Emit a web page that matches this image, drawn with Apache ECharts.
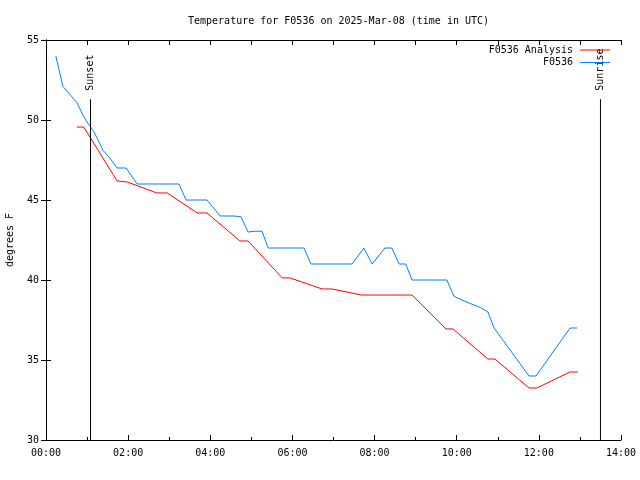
<!DOCTYPE html>
<html><head><meta charset="utf-8">
<script src="https://cdn.jsdelivr.net/npm/echarts@6/dist/echarts.min.js"></script>
<style>html,body{margin:0;padding:0;background:#fff}#c{width:640px;height:480px}</style>
</head><body><div id="c"></div>
<script>
const titleText = 'Temperature for F0536 on 2025-Mar-08 (time in UTC)';
const yName = 'degrees F';
const seriesNames = ['F0536 Analysis', 'F0536'];
const xTickLabels = ['00:00','02:00','04:00','06:00','08:00','10:00','12:00','14:00'];
// hours (UTC) and temperature (F)
const obsHours = [0.24,0.41,0.75,0.90,1.02,1.17,1.39,1.56,1.73,1.95,2.22,3.24,3.41,3.92,4.24,4.58,4.75,4.92,5.09,5.26,5.41,6.28,6.45,7.45,7.74,7.94,8.25,8.42,8.60,8.76,8.91,9.76,9.93,10.03,10.32,10.57,10.76,10.91,11.76,11.93,12.76,12.93];
const obsTemps = [54.0,52.1,51.1,50.3,49.8,49.25,48.1,47.6,47.0,47.0,46.0,46.0,45.0,45.0,44.0,44.0,43.95,43.0,43.05,43.05,42.0,42.0,41.0,41.0,42.0,41.0,42.0,42.0,41.0,41.0,40.0,40.0,39.0,38.86,38.54,38.29,38.0,37.0,34.0,34.0,37.0,37.0];
const anaHours = [0.75,0.92,1.73,1.97,2.70,2.95,3.68,3.92,4.72,4.92,5.75,5.94,6.72,6.96,7.69,8.91,9.74,9.91,10.76,10.93,11.76,11.95,12.76,12.95];
const anaTemps = [49.56,49.56,46.19,46.13,45.44,45.44,44.19,44.19,42.44,42.44,40.13,40.13,39.44,39.44,39.06,39.06,36.94,36.94,35.06,35.06,33.25,33.25,34.25,34.25];
const sunNames = ['Sunset', 'Sunrise'];
const sunHours = [1.084, 13.50];
const sunLineTop = 51.3;

const FONT = 'DejaVu Sans Mono';
const zip = (a, b) => a.map((v, i) => [v, b[i]]);

function sunSeries(i) {
  return {
    type: 'line', name: sunNames[i], xAxisIndex: 0, yAxisIndex: 0,
    symbol: 'circle', symbolSize: 1, showSymbol: true, silent: true, animation: false,
    itemStyle: { color: 'rgba(0,0,0,0)' },
    lineStyle: { color: '#000', width: 1 },
    data: [
      [sunHours[i], 30],
      { value: [sunHours[i], sunLineTop],
        label: { show: true, formatter: sunNames[i], position: 'top', distance: 8,
          rotate: 90, align: 'left', verticalAlign: 'middle',
          color: '#000', fontFamily: FONT, fontSize: 10 } }
    ]
  };
}

const legendBase = {
  orient: 'vertical', align: 'right', padding: 0,
  icon: 'rect', itemWidth: 30, itemHeight: 1, itemGap: 4,
  textStyle: { fontFamily: FONT, fontSize: 10, color: '#000', padding: [0, 2, 0, 0] }
};

const chart = echarts.init(document.getElementById('c'), null, { renderer: 'canvas' });
chart.setOption({
  animation: false,
  backgroundColor: '#fff',
  title: { text: titleText, left: 183, top: 11,
    textStyle: { fontFamily: FONT, fontSize: 10, fontWeight: 'normal', color: '#000' } },
  grid: { left: 46, right: 19, top: 40, bottom: 40, containLabel: false, outerBoundsMode: 'none' },
  legend: [
    Object.assign({ data: [seriesNames[0]], right: 30, top: 45 }, legendBase),
    Object.assign({ data: [seriesNames[1]], right: 30, top: 57.5 }, legendBase)
  ],
  xAxis: [
    { type: 'value', min: 0, max: 14, interval: 2, position: 'bottom',
      axisLine: { show: true, lineStyle: { color: '#000', width: 1 } },
      axisTick: { show: true, inside: true, length: 5, lineStyle: { color: '#000' } },
      minorTick: { show: true, splitNumber: 2, length: 3, lineStyle: { color: '#000' } },
      splitLine: { show: false },
      axisLabel: { margin: 8, color: '#000', fontFamily: FONT, fontSize: 10,
        formatter: v => xTickLabels[Math.round(v / 2)] } },
    { type: 'value', min: 0, max: 14, interval: 1, position: 'top',
      axisLine: { show: true, lineStyle: { color: '#000', width: 1 } },
      axisTick: { show: true, inside: true, length: 5, lineStyle: { color: '#000' } },
      splitLine: { show: false }, axisLabel: { show: false } }
  ],
  yAxis: [
    { type: 'value', min: 30, max: 55, interval: 5, position: 'left',
      name: yName, nameLocation: 'middle', nameGap: 31,
      nameTextStyle: { color: '#000', fontFamily: FONT, fontSize: 10 },
      axisLine: { show: true, lineStyle: { color: '#000', width: 1 } },
      axisTick: { show: true, inside: true, length: 5, lineStyle: { color: '#000' } },
      splitLine: { show: false },
      axisLabel: { margin: 7, color: '#000', fontFamily: FONT, fontSize: 10 } },
    { type: 'value', min: 30, max: 55, interval: 5, position: 'right',
      axisLine: { show: true, lineStyle: { color: '#000', width: 1 } },
      axisTick: { show: true, inside: true, length: 5, lineStyle: { color: '#000' } },
      splitLine: { show: false }, axisLabel: { show: false } }
  ],
  series: [
    { type: 'line', name: seriesNames[0], xAxisIndex: 0, yAxisIndex: 0,
      symbol: 'none', color: '#ff0000', lineStyle: { width: 1, color: '#ff0000' },
      data: zip(anaHours, anaTemps) },
    { type: 'line', name: seriesNames[1], xAxisIndex: 0, yAxisIndex: 0,
      symbol: 'none', color: '#0080ff', lineStyle: { width: 1, color: '#0080ff' },
      data: zip(obsHours, obsTemps) },
    sunSeries(0),
    sunSeries(1)
  ]
});
</script></body></html>
